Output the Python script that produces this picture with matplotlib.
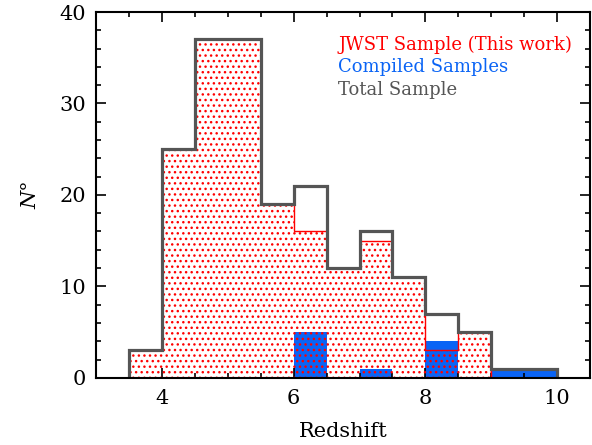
import matplotlib
matplotlib.use("Agg")
import matplotlib.pyplot as plt
import numpy as np
from matplotlib.ticker import MultipleLocator

bin_edges = [3.5, 4.0, 4.5, 5.0, 5.5, 6.0, 6.5, 7.0, 7.5, 8.0, 8.5, 9.0, 9.5, 10.0]
jwst_counts = [3, 25, 37, 37, 19, 16, 12, 15, 11, 3, 5, 0, 0]
compiled_counts = [0, 0, 0, 0, 0, 5, 0, 1, 0, 4, 0, 1, 1]
total_counts = [3, 25, 37, 37, 19, 21, 12, 16, 11, 7, 5, 1, 1]

plt.rcParams['font.family'] = ['DejaVu Serif']
plt.rcParams['hatch.linewidth'] = 1.0

fig = plt.figure(figsize=(5.92, 4.45), dpi=100)
ax = fig.add_axes([0.162, 0.151, 0.835, 0.822])

edges = np.array(bin_edges)
ax.stairs(compiled_counts, edges, fill=True, color='#0a64f5', lw=0, zorder=1)
ax.stairs(jwst_counts, edges, fill=True, facecolor='none', edgecolor='red',
          hatch='...', lw=1.0, zorder=2)
ax.stairs(total_counts, edges, baseline=0, fill=False, color='#555555', lw=2.3, zorder=3)

ax.set_xlim(3.0, 10.5)
ax.set_ylim(0, 40)
ax.xaxis.set_major_locator(MultipleLocator(2))
ax.xaxis.set_minor_locator(MultipleLocator(0.5))
ax.yaxis.set_major_locator(MultipleLocator(10))
ax.yaxis.set_minor_locator(MultipleLocator(2))
ax.tick_params(which='both', direction='in', top=True, right=True, width=1.2, labelsize=15)
ax.tick_params(which='major', length=7)
ax.tick_params(which='minor', length=3.5)
ax.tick_params(axis='x', pad=8)
ax.tick_params(axis='y', pad=7)
for s in ax.spines.values():
    s.set_linewidth(1.5)
    s.set_zorder(5)

ax.set_xlabel('Redshift', fontsize=15, labelpad=10)
ax.set_ylabel('N°', fontsize=15, style='italic', labelpad=14)

ax.text(0.49, 0.91, 'JWST Sample (This work)', color='red', fontsize=13,
        transform=ax.transAxes, va='center', ha='left')
ax.text(0.49, 0.849, 'Compiled Samples', color='#0a64f5', fontsize=13,
        transform=ax.transAxes, va='center', ha='left')
ax.text(0.49, 0.786, 'Total Sample', color='#555555', fontsize=13,
        transform=ax.transAxes, va='center', ha='left')

fig.savefig('out.png', dpi=100)
